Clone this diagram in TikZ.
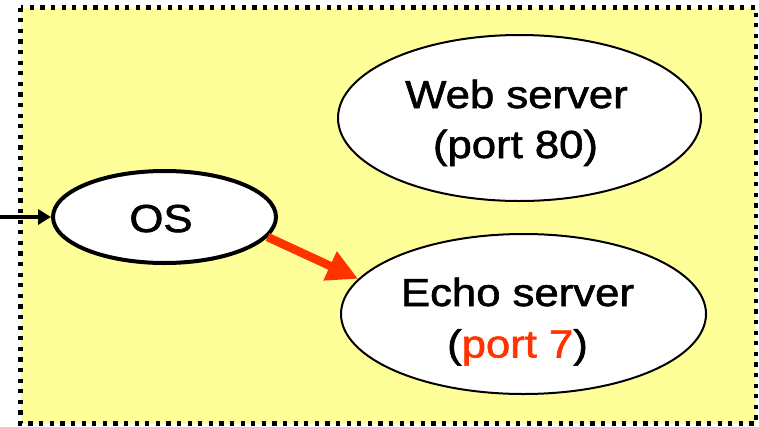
\documentclass[tikz,border=0pt]{standalone}
\usepackage{fontspec}
\setmainfont{Liberation Sans}
\newfontfamily\labelfont[FakeStretch=1.12,FakeBold=1.6]{Liberation Sans}
\usetikzlibrary{arrows.meta,shapes.geometric}
\definecolor{panelyellow}{HTML}{FFFF99}
\definecolor{hotred}{HTML}{FF3300}
\tikzset{
  panel/.style={fill=panelyellow, draw=black, line width=4.2pt, dash pattern=on 4.2pt off 6.4pt},
  proc/.style={ellipse, draw=black, fill=white, inner sep=0pt},
  caption/.style={anchor=base, inner sep=0pt, font=\labelfont\fontsize{39}{50}\selectfont},
  inarrow/.style={draw=black, line width=4pt, -{Triangle[length=13pt,width=15pt]}},
  hotarrow/.style={draw=hotred, line width=8.5pt, -{Triangle[length=31pt,width=30pt]}},
}
\begin{document}
\begin{tikzpicture}[x=1pt,y=-1pt]
  \useasboundingbox (0,0) rectangle (759,426);
  % host box
  \path[panel] (20.5,7.5) rectangle (756,423.5);
  % processes
  \node[proc, line width=4pt, minimum width=223pt, minimum height=92pt] (os) at (164.5,217) {};
  \node[proc, line width=2pt, minimum width=363pt, minimum height=166pt] (web) at (519.5,118) {};
  \node[proc, line width=2pt, minimum width=365pt, minimum height=160pt] (echo) at (523.5,314) {};
  % their labels
  \node[caption] (ostext) at (161,232) {OS};
  \node[caption] (webname) at (516.5,108) {Web server};
  \node[caption] (webport) at (515.5,158) {(port 80)};
  \node[caption] (echoname) at (517.5,306) {Echo server};
  \node[caption] (echoport) at (517.5,357.5) {(\textcolor{hotred}{port 7})};
  % incoming packet and dispatch
  \coordinate (src) at (0,217);
  \draw[inarrow] (src) -- (os.west);
  \draw[hotarrow] (os.-11) -- (echo.168);
\end{tikzpicture}
\end{document}
